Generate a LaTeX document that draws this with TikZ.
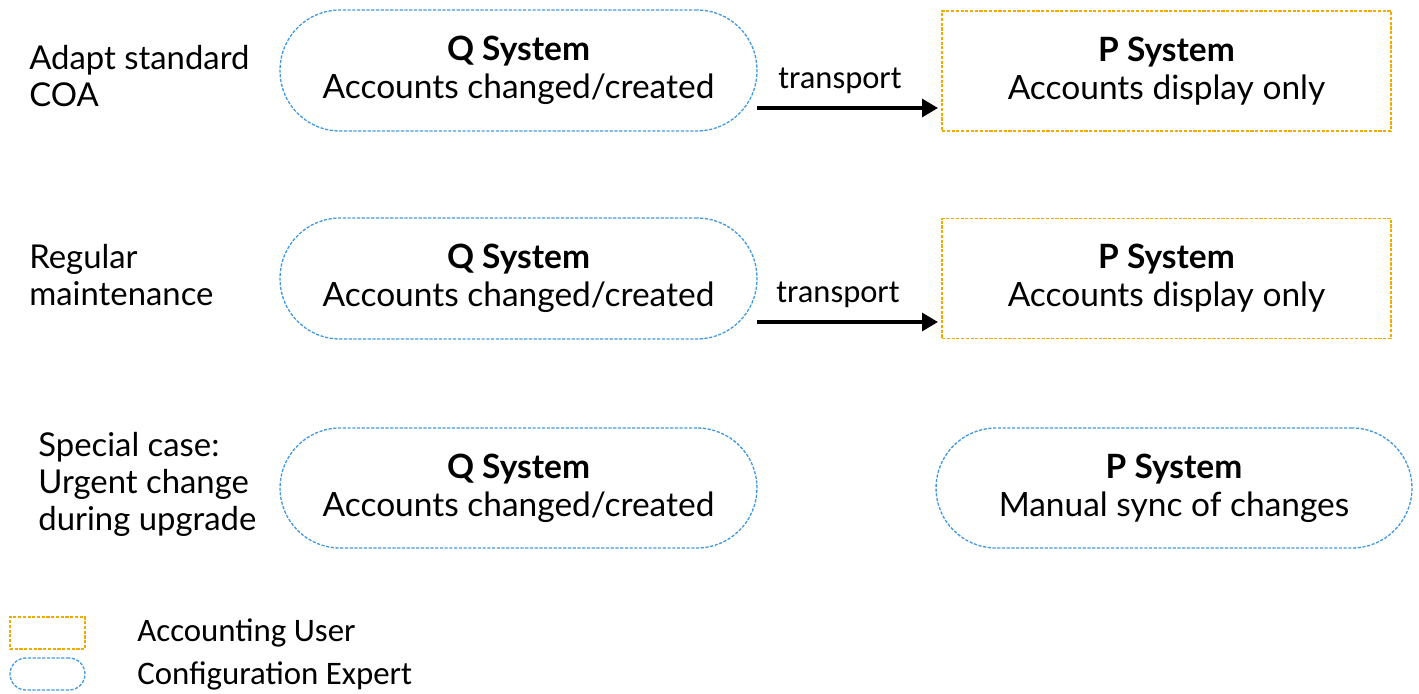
\documentclass[tikz,border=0pt]{standalone}
\usepackage{fontspec}
\setmainfont{Lato}
\newfontfamily\calfont{Carlito}
\usetikzlibrary{arrows.meta}
\definecolor{expertblue}{RGB}{66,153,225}
\definecolor{useramber}{RGB}{240,171,0}
\tikzset{
  expert/.style={draw=expertblue, line width=0.75pt, dash pattern=on 1.8pt off 0.9pt,
    rectangle, rounded corners=#1, inner sep=0pt, align=center},
  expert/.default=1.2cm,
  accuser/.style={draw=useramber, line width=0.75pt, dash pattern=on 1.8pt off 0.9pt,
    rectangle, inner sep=0pt, align=center},
  body/.style={font=\fontsize{19.05}{21.5}\selectfont},
  rowlabel/.style={anchor=west, align=left, inner sep=0pt, font=\fontsize{18.7}{21}\selectfont},
  flow/.style={line width=2.2pt, -{Triangle[length=9pt,width=10pt]}},
  flowlabel/.style={font=\calfont\fontsize{18.5}{20}\selectfont, inner sep=0pt},
  legendtext/.style={anchor=west, inner sep=0pt, font=\calfont\fontsize{18.7}{20}\selectfont},
}
\begin{document}
\begin{tikzpicture}[x=0.02cm, y=-0.02cm]
\useasboundingbox (0,0) rectangle (1419,693);

% row labels
\node[rowlabel] (l1) at (29,76) {Adapt standard\\COA};
\node[rowlabel] (l2) at (29,275) {Regular\\maintenance};
\node[rowlabel] (l3) at (38,484) {Special case:\\Urgent change\\during upgrade};

% row 1
\node[expert, body, minimum width=9.54cm, minimum height=2.42cm] (q1) at (518.5,70.5)
  {\textbf{Q System}\\Accounts changed/created};
\node[accuser, body, minimum width=8.98cm, minimum height=2.4cm] (p1) at (1166.5,71)
  {\textbf{P System}\\Accounts display only};

% row 2
\node[expert, body, minimum width=9.54cm, minimum height=2.42cm] (q2) at (518.5,278.5)
  {\textbf{Q System}\\Accounts changed/created};
\node[accuser, body, minimum width=8.98cm, minimum height=2.4cm] (p2) at (1166.5,278.5)
  {\textbf{P System}\\Accounts display only};

% row 3
\node[expert, body, minimum width=9.54cm, minimum height=2.4cm] (q3) at (518.5,488)
  {\textbf{Q System}\\Accounts changed/created};
\node[expert, body, minimum width=9.52cm, minimum height=2.4cm] (p3) at (1174,488)
  {\textbf{P System}\\Manual sync of changes};

% transports
\coordinate (t1s) at (757,108);
\coordinate (t1e) at (938,108);
\draw[flow] (t1s) -- (t1e);
\node[flowlabel] (tl1) at (840,81) {transport};
\coordinate (t2s) at (757,322);
\coordinate (t2e) at (938,322);
\draw[flow] (t2s) -- (t2e);
\node[flowlabel] (tl2) at (838,295) {transport};

% legend
\node[accuser, minimum width=1.5cm, minimum height=0.64cm] (kuser) at (47.5,633) {};
\node[expert=0.32cm, minimum width=1.5cm, minimum height=0.64cm] (kexpert) at (47.5,674) {};
\node[legendtext] (kusert) at (137,633) {Accounting User};
\node[legendtext] (kexpertt) at (137,676) {Configuration Expert};
\end{tikzpicture}
\end{document}
